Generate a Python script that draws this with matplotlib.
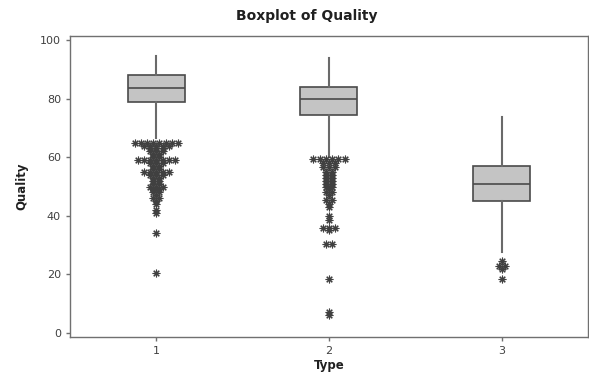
import numpy as np
import matplotlib.pyplot as plt

# summary values
types = [1, 2, 3]
medians = [83.7, 80.0, 51.0]
q1 = [79.0, 74.4, 45.0]
q3 = [88.0, 84.0, 57.0]
whisk_lo = [66.5, 60.2, 27.6]
whisk_hi = [94.5, 94.0, 73.7]

# outliers (repeats are stacked side by side, like Minitab does)
out1 = ([65] * 8 + [64] * 5 + [63] * 3 + [62] * 3 + [61] * 2 + [60] * 2 + [59] * 7
        + [58] * 3 + [57] * 2 + [56] * 2 + [55] * 5 + [54] * 3 + [53] * 2 + [52] * 2
        + [51] * 2 + [50] * 3 + [49] * 2 + [48] * 2 + [47] + [46] * 2 + [45] + [44]
        + [42] + [41] + [34] + [20.5])
out2 = ([59.5] * 6 + [58] * 3 + [56.5] * 3 + [55] * 2 + [54] * 2 + [53] * 2
        + [52] * 2 + [51] * 2 + [50] * 2 + [49] + [48] * 2 + [47] + [45.5] * 2
        + [44] + [43] + [40] + [38.5] + [36] * 3 + [35] + [30.4] * 2 + [18.3] + [7.3] + [6.1])
out3 = [24.5, 23, 23, 22, 18.3]
outliers = [out1, out2, out3]

fig = plt.figure(figsize=(5.89, 3.83), dpi=100)
ax = fig.add_axes([0.1188, 0.120, 0.8795, 0.786])

stats = []
for i in range(3):
    stats.append(dict(med=medians[i], q1=q1[i], q3=q3[i],
                      whislo=whisk_lo[i], whishi=whisk_hi[i], fliers=[]))

ax.bxp(stats, positions=types, widths=0.33, showfliers=False, patch_artist=True,
       boxprops=dict(facecolor='#c4c4c4', edgecolor='#4a4a4a', linewidth=1.2),
       medianprops=dict(color='#4a4a4a', linewidth=1.2),
       whiskerprops=dict(color='#6a6a6a', linewidth=1.5),
       capprops=dict(linewidth=0))

# stack duplicate outliers horizontally
step = 0.036
for t, vals in zip(types, outliers):
    vals = np.array(vals)
    uniq, counts = np.unique(vals, return_counts=True)
    xs, ys = [], []
    for v, n in zip(uniq, counts):
        for k in range(n):
            xs.append(t + (k - (n - 1) / 2) * step)
            ys.append(v)
    ax.plot(xs, ys, linestyle='none', marker=(8, 2, 0), markersize=5.5,
            markeredgewidth=0.8, color='#404040')

ax.set_xlim(0.5, 3.5)
ax.set_ylim(-1.4, 101.4)
ax.set_xticks(types)
ax.set_yticks([0, 20, 40, 60, 80, 100])
for s in ax.spines.values():
    s.set_color('#707070')
    s.set_linewidth(1.0)
ax.tick_params(colors='#707070', labelcolor='#404040', labelsize=8, length=3, width=1)

fig.text(0.52, 0.958, 'Boxplot of Quality', ha='center', va='center',
         fontsize=10, fontweight='bold', color='#202020')
ax.set_xlabel('Type', fontsize=8.5, fontweight='bold', color='#202020', labelpad=2)
ax.set_ylabel('Quality', fontsize=8.5, fontweight='bold', color='#202020', labelpad=8)

fig.savefig('out.png', dpi=100)
